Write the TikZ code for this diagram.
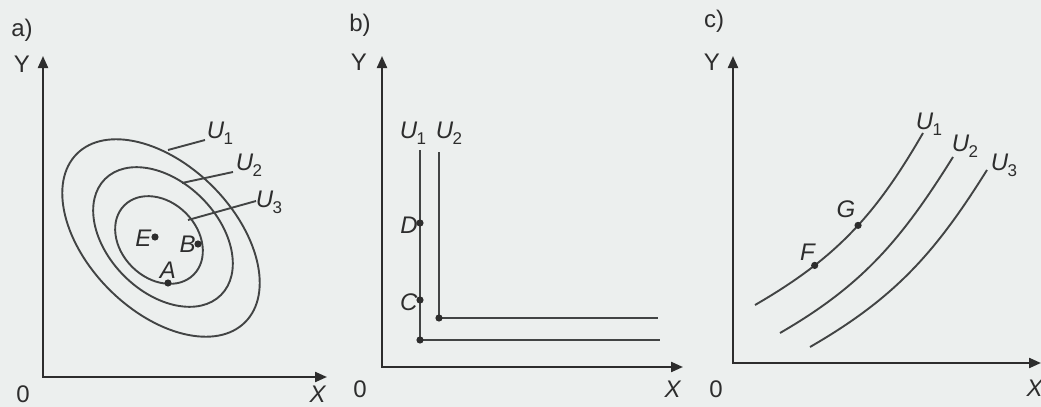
\documentclass[tikz,border=0pt]{standalone}
\usepackage{fontspec}
\setmainfont{Liberation Sans}
\usetikzlibrary{arrows.meta}
\definecolor{paper}{RGB}{236,239,238}
\definecolor{ink}{RGB}{45,45,45}
\definecolor{curvecol}{RGB}{66,68,68}
\newcommand{\Ulab}[1]{\textit{U}\kern-0.3pt\raisebox{-0.45ex}{\fontsize{8.5}{9}\selectfont #1}}
\begin{document}
\begin{tikzpicture}[x=0.5pt,y=-0.5pt,
  axis/.style={draw=ink, line width=1.1pt, {Triangle[length=6pt,width=5pt]}-{Triangle[length=6pt,width=5pt]}},
  crv/.style={draw=curvecol, line width=0.95pt},
  lbl/.style={inner sep=0pt, text=ink, font=\fontsize{12}{14}\selectfont},
  pt/.style={circle, fill=ink, inner sep=0pt, minimum size=3.6pt},
]
\useasboundingbox[fill=paper] (0,0) rectangle (1041,407);

% ---------- panel a ----------
\coordinate (Oa) at (43,377);
\coordinate (Ya) at (43,56);
\coordinate (Xa) at (327,377);
\draw[axis] (Ya) -- (Oa) -- (Xa);
\node[lbl] (la) at (22,30) {a)};
\node[lbl] (lYa) at (22,64) {Y};
\node[lbl] (l0a) at (23,394) {0};
\node[lbl] (lXa) at (318,394) {\textit{X}};

\draw[crv, rotate around={-45:(161,238)}] (161,238) ellipse [x radius=119, y radius=73];
\draw[crv, rotate around={-45:(163,237)}] (163,237) ellipse [x radius=82, y radius=55];
\draw[crv, rotate around={-45:(159,240)}] (159,240) ellipse [x radius=49, y radius=38];

\node[lbl] (aU1) at (220,133) {\Ulab{1}};
\node[lbl] (aU2) at (249,165) {\Ulab{2}};
\node[lbl] (aU3) at (269,202) {\Ulab{3}};
\coordinate (a1s) at (168,150); \coordinate (a1e) at (205,140);
\coordinate (a2s) at (182,183); \coordinate (a2e) at (233,172);
\coordinate (a3s) at (188,220); \coordinate (a3e) at (256,201);
\draw[crv] (a1s) -- (a1e);
\draw[crv] (a2s) -- (a2e);
\draw[crv] (a3s) -- (a3e);

\node[pt] (E) at (155,237) {};
\node[lbl, anchor=east] (lE) at (152,238) {\textit{E}};
\node[pt] (B) at (198,244) {};
\node[lbl, anchor=east] (lB) at (196,244) {\textit{B}};
\node[pt] (A) at (168,283) {};
\node[lbl] (lA) at (168,270) {\textit{A}};

% ---------- panel b ----------
\coordinate (Ob) at (382,367);
\coordinate (Yb) at (382,56);
\coordinate (Xb) at (683,367);
\draw[axis] (Yb) -- (Ob) -- (Xb);
\node[lbl] (lb) at (360,25) {b)};
\node[lbl] (lYb) at (359,62) {Y};
\node[lbl] (l0b) at (360,389) {0};
\node[lbl] (lXb) at (673,389) {\textit{X}};

\coordinate (b1t) at (420,150);
\coordinate (b1c) at (420,340);
\coordinate (b1r) at (660,340);
\coordinate (b2t) at (439,152);
\coordinate (b2c) at (439,318);
\coordinate (b2r) at (658,318);
\draw[crv] (b1t) -- (b1c) -- (b1r);
\draw[crv] (b2t) -- (b2c) -- (b2r);
\node[pt] (K1) at (b1c) {};
\node[pt] (K2) at (b2c) {};
\node[lbl] (bU1) at (413,133) {\Ulab{1}};
\node[lbl] (bU2) at (449,133) {\Ulab{2}};
\node[pt] (D) at (420,223) {};
\node[lbl, anchor=east] (lD) at (418,225) {\textit{D}};
\node[pt] (C) at (420,300) {};
\node[lbl, anchor=east] (lC) at (418,302) {\textit{C}};

% ---------- panel c ----------
\coordinate (Oc) at (733,363);
\coordinate (Yc) at (733,56);
\coordinate (Xc) at (1041,363);
\draw[axis] (Yc) -- (Oc) -- (Xc);
\node[lbl] (lc) at (714,21) {c)};
\node[lbl] (lYc) at (712,62) {Y};
\node[lbl] (l0c) at (716,389) {0};
\node[lbl] (lXc) at (1035,388) {\textit{X}};

\coordinate (c1s) at (755,305); \coordinate (c1e) at (923,133);
\coordinate (c2s) at (780,333); \coordinate (c2e) at (953,157);
\coordinate (c3s) at (810,347); \coordinate (c3e) at (987,170);
\draw[crv] (c1s) to[out=30,in=-120] coordinate[pos=0.28] (Fp) coordinate[pos=0.54] (Gp) (c1e);
\draw[crv] (c2s) to[out=30,in=-122] (c2e);
\draw[crv] (c3s) to[out=30,in=-122] (c3e);
\node[pt] (F) at (Fp) {};
\node[pt] (G) at (Gp) {};
\node[lbl] (lF) at (808,252) {\textit{F}};
\node[lbl] (lG) at (846,209) {\textit{G}};
\node[lbl] (cU1) at (929,124) {\Ulab{1}};
\node[lbl] (cU2) at (965,146) {\Ulab{2}};
\node[lbl] (cU3) at (1004,165) {\Ulab{3}};
\end{tikzpicture}
\end{document}
